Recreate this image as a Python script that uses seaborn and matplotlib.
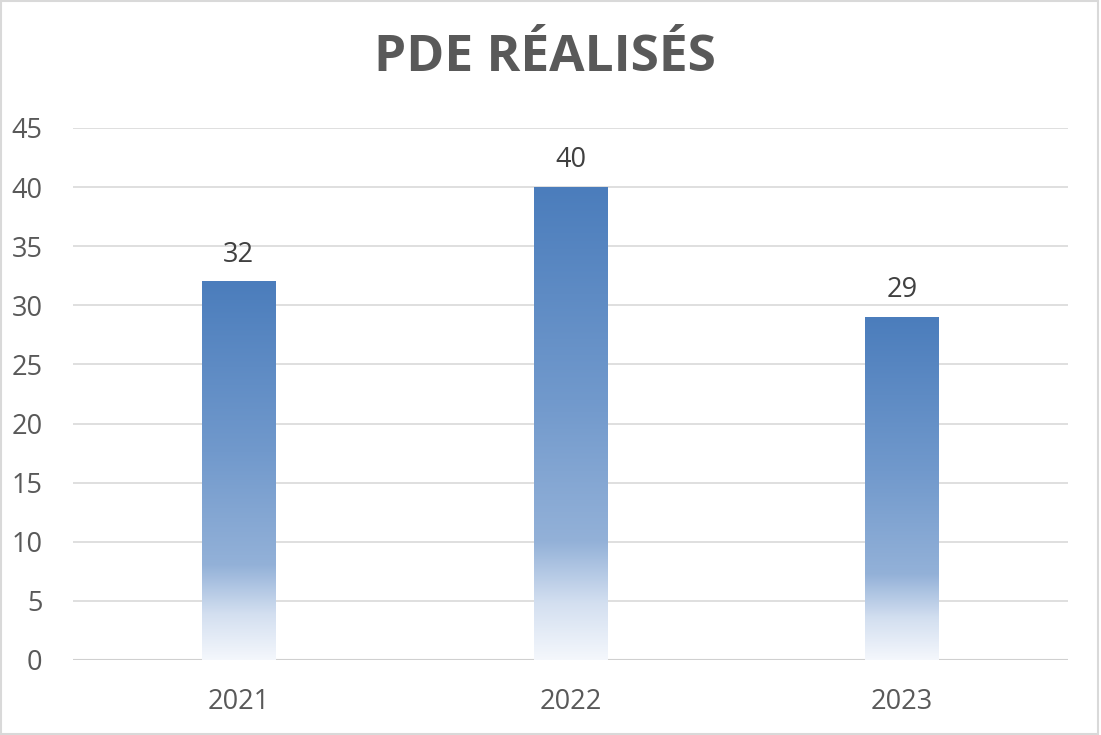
import numpy as np
import pandas as pd
import matplotlib
matplotlib.use('Agg')
import matplotlib.pyplot as plt
from matplotlib.colors import LinearSegmentedColormap
from matplotlib.patches import Rectangle
import seaborn as sns

# Données
annees = ['2021', '2022', '2023']
valeurs = [32, 40, 29]
titre = 'PDE RÉALISÉS'

df = pd.DataFrame({'Annee': annees, 'PDE': valeurs})

sns.set_style('white')
plt.rcParams['font.family'] = ['Open Sans', 'DejaVu Sans']

fig = plt.figure(figsize=(11.01, 7.35), dpi=100)
ax = fig.add_axes([73 / 1101, 1 - 660 / 735, 995 / 1101, 532 / 735])

sns.barplot(data=df, x='Annee', y='PDE', ax=ax, width=0.223,
            color='#4F81BD', saturation=1, zorder=3)

# Dégradé vertical dans chaque barre (bas presque blanc -> haut bleu)
grad = LinearSegmentedColormap.from_list('pde', [
    (0.0, '#f4f7fc'),
    (0.12, '#d3dff0'),
    (0.25, '#93b1d8'),
    (0.55, '#7199cc'),
    (1.0, '#4b7dbc'),
])
dégradé = np.linspace(0, 1, 256).reshape(-1, 1)
for p in ax.patches:
    x0, y0 = p.get_x(), p.get_y()
    w, h = p.get_width(), p.get_height()
    p.set_visible(False)
    ax.imshow(dégradé, cmap=grad, origin='lower', aspect='auto',
              extent=(x0, x0 + w, y0, y0 + h), zorder=3, interpolation='bilinear')
    ax.text(x0 + w / 2, h + 1.1, f'{int(h)}', ha='center', va='bottom',
            fontsize=19.5, color='#404040', zorder=4)

ax.set_xlim(-0.5, 2.5)
ax.set_ylim(0, 45)
ax.set_yticks(range(0, 50, 5))
ax.grid(axis='y', color='#d9d9d9', linewidth=1.2, zorder=0)
ax.axhline(0, color='#d0d0d0', linewidth=1.5, zorder=2)
for s in ax.spines.values():
    s.set_visible(False)
ax.tick_params(axis='both', length=0, labelsize=19.5, labelcolor='#595959')
ax.tick_params(axis='y', pad=22)
ax.tick_params(axis='x', pad=20)
ax.set_xlabel('')
ax.set_ylabel('')

fig.text(545 / 1101, 1 - 58 / 735, titre, ha='center', va='center',
         fontsize=37, fontweight='bold', color='#595959')

# cadre du graphique
fig.patches.append(Rectangle((0.001, 0.002), 0.996, 0.996, transform=fig.transFigure,
                             fill=False, edgecolor='#d9d9d9', linewidth=1.5))

fig.savefig('out.png', dpi=100)
